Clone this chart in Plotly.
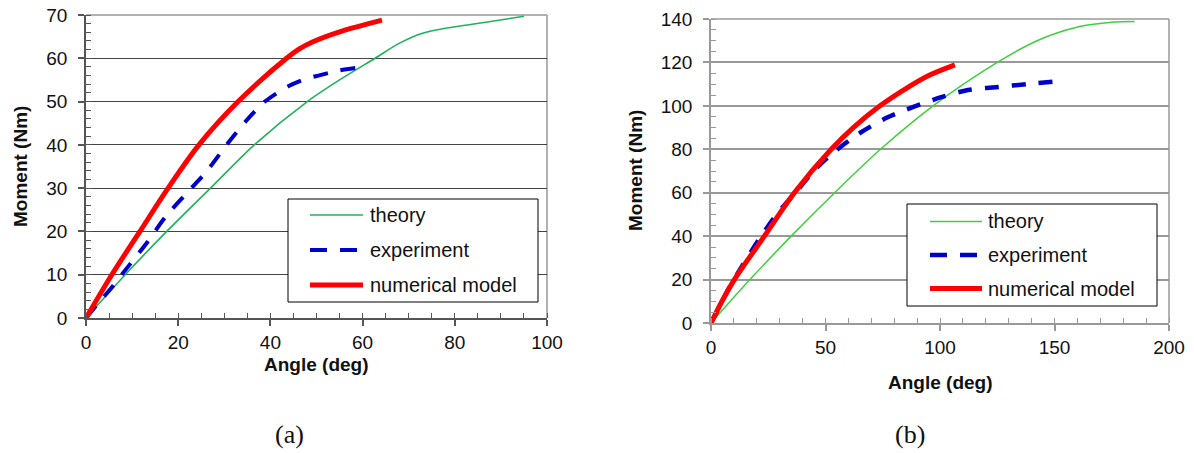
import plotly.graph_objects as go

# ---- data: panel (a) ----
a_theory_x = [0, 8.5, 17.5, 27, 36.5, 48, 55, 62.7, 68, 73, 78.3, 86, 95]
a_theory_y = [0, 10, 20, 30, 40, 50, 55, 60, 63.5, 65.8, 67, 68.2, 69.7]

a_exp_x = [0, 2.5, 5.3, 9.3, 13.3, 17.2, 21.8, 26.1, 30.5, 34.7, 38.8, 44, 47.5, 50.8, 55, 58.8]
a_exp_y = [0, 3.2, 6.7, 12.1, 17.5, 23.3, 28.8, 33.8, 40, 45.5, 50, 53.6, 55.2, 56.1, 57.2, 57.8]

a_num_x = [0, 5.6, 11.7, 17.8, 24.5, 33, 43.5, 46.2, 49, 55, 64.2]
a_num_y = [0, 10, 20, 30, 40, 50, 60, 62.1, 63.7, 66.1, 68.8]

# ---- data: panel (b) ----
b_theory_x = [0, 17, 35, 54, 74, 97, 125, 142.4, 161, 175, 185]
b_theory_y = [0, 20, 40, 60, 80, 100, 120, 130, 136.5, 138.5, 138.8]

b_exp_x = [0, 3, 7.3, 13.8, 20.8, 28.4, 37.2, 45.2, 53.5, 65, 76.9, 88.4, 100.9, 112.2, 125.3, 138, 153.7]
b_exp_y = [0, 6, 15.1, 26.6, 38.2, 49.7, 60.5, 70.4, 78.5, 87.5, 94.6, 99.5, 104.1, 107.3, 108.7, 110, 111.5]

b_num_x = [0, 4.8, 10.2, 23.3, 36.4, 52.5, 62.5, 73.5, 85.3, 95.5, 106.5]
b_num_y = [0, 10, 20, 40, 60, 80, 90.3, 99.8, 108.1, 114.2, 118.9]

legend_labels = ["theory", "experiment", "numerical model"]
captions = ["(a)", "(b)"]

W, H = 1194, 453
FONT = "Arial, Liberation Sans, sans-serif"


def fx(p):
    return p / W


def fy(p):
    return 1 - p / H


RED = "#ff0000"
BLUE = "#0000cc"
GREEN_A = "#1fb25a"
GREEN_B = "#3fcf3f"

fig = go.Figure()

# panel (a) curves
fig.add_trace(go.Scatter(x=a_theory_x, y=a_theory_y, mode="lines", xaxis="x", yaxis="y",
                         line=dict(color=GREEN_A, width=1.6, shape="spline", smoothing=0.8),
                         showlegend=False))
fig.add_trace(go.Scatter(x=a_exp_x, y=a_exp_y, mode="lines", xaxis="x", yaxis="y",
                         line=dict(color=BLUE, width=4, dash="15px,13px", shape="spline", smoothing=0.8),
                         showlegend=False))
fig.add_trace(go.Scatter(x=a_num_x, y=a_num_y, mode="lines", xaxis="x", yaxis="y",
                         line=dict(color=RED, width=5, shape="spline", smoothing=0.9),
                         showlegend=False))

# panel (b) curves
fig.add_trace(go.Scatter(x=b_theory_x, y=b_theory_y, mode="lines", xaxis="x2", yaxis="y2",
                         line=dict(color=GREEN_B, width=1.5, shape="spline", smoothing=0.8),
                         showlegend=False))
fig.add_trace(go.Scatter(x=b_exp_x, y=b_exp_y, mode="lines", xaxis="x2", yaxis="y2",
                         line=dict(color=BLUE, width=4.5, dash="14px,13px", shape="spline", smoothing=0.8),
                         showlegend=False))
fig.add_trace(go.Scatter(x=b_num_x, y=b_num_y, mode="lines", xaxis="x2", yaxis="y2",
                         line=dict(color=RED, width=5, shape="spline", smoothing=0.8),
                         showlegend=False))


def axis_style(axcolor, gridcolor, gridwidth, dtick, minor_dtick, rng, domain, anchor, showgrid, standoff):
    return dict(
        domain=domain, anchor=anchor, range=rng, dtick=dtick, tick0=0, automargin=False,
        showline=True, linecolor=axcolor, linewidth=1.5,
        ticks="outside", ticklen=6, tickcolor=axcolor, tickwidth=1.5,
        minor=dict(dtick=minor_dtick, ticks="inside", ticklen=5, tickcolor=axcolor,
                   tickwidth=1, showgrid=False),
        showgrid=showgrid, gridcolor=gridcolor, gridwidth=gridwidth,
        zeroline=False, tickfont=dict(family=FONT, size=19, color="#111"),
        ticklabelstandoff=standoff, fixedrange=True,
    )


fig.update_layout(
    width=W, height=H, margin=dict(l=0, r=0, t=0, b=0, autoexpand=False),
    paper_bgcolor="white", plot_bgcolor="white", showlegend=False,
    xaxis=axis_style("#555", "#444", 1, 20, 5, [0, 100], [fx(86), fx(547)], "y", False, 0),
    yaxis=axis_style("#555", "#444", 1, 10, 2, [0, 70], [fy(318), fy(15)], "x", True, 7),
    xaxis2=axis_style("#999", "#999", 1.5, 50, 10, [0, 200], [fx(711), fx(1169)], "y2", False, 0),
    yaxis2=axis_style("#999", "#999", 1.5, 20, 5, [0, 140], [fy(323), fy(19)], "x2", True, 7),
)

shapes = []
# plot frames (right and top edges in light grey)
for xd, yd in (("x domain", "y domain"), ("x2 domain", "y2 domain")):
    shapes.append(dict(type="line", xref=xd, yref=yd, x0=1, x1=1, y0=0, y1=1,
                       line=dict(color="#999", width=1.5), layer="below"))
    shapes.append(dict(type="line", xref=xd, yref=yd, x0=0, x1=1, y0=1, y1=1,
                       line=dict(color="#999", width=1.5), layer="below"))

annotations = []


def add_legend(box, sample_x, rows, text_x, colors, widths, dashes):
    x0, x1, y0, y1 = box
    shapes.append(dict(type="rect", xref="paper", yref="paper",
                       x0=fx(x0), x1=fx(x1), y0=fy(y1), y1=fy(y0),
                       line=dict(color="black", width=1), fillcolor="white", layer="above"))
    for label, yy, c, w, d in zip(legend_labels, rows, colors, widths, dashes):
        shapes.append(dict(type="line", xref="paper", yref="paper",
                           x0=fx(sample_x[0]), x1=fx(sample_x[1]), y0=fy(yy), y1=fy(yy),
                           line=dict(color=c, width=w, dash=d), layer="above"))
        annotations.append(dict(xref="paper", yref="paper", x=fx(text_x), y=fy(yy),
                                text=label, showarrow=False, xanchor="left", yanchor="middle",
                                font=dict(family=FONT, size=20, color="#111")))


add_legend((288, 538, 199, 302), (310, 363), (215, 250, 285), 368,
           [GREEN_A, BLUE, RED], [1.6, 4, 5], ["solid", "17px,13px", "solid"])
add_legend((907, 1157, 204, 306), (930, 982), (221.5, 255, 288.5), 986,
           [GREEN_B, BLUE, RED], [1.5, 4.5, 5], ["solid", "17px,13px", "solid"])

# axis titles
title_font = dict(family=FONT, size=19, color="#111")
for txt, x, y, ang in (("Moment (Nm)", 20, 167, -90), ("Angle (deg)", 316, 364, 0),
                       ("Moment (Nm)", 636, 171, -90), ("Angle (deg)", 940, 382, 0)):
    annotations.append(dict(xref="paper", yref="paper", x=fx(x), y=fy(y), text="<b>%s</b>" % txt,
                            showarrow=False, xanchor="center", yanchor="middle", textangle=ang,
                            font=title_font))

# sub-figure captions
for txt, x in zip(captions, (289, 910)):
    annotations.append(dict(xref="paper", yref="paper", x=fx(x), y=fy(434), text=txt,
                            showarrow=False, xanchor="center", yanchor="middle",
                            font=dict(family="Liberation Serif, DejaVu Serif, serif", size=26,
                                      color="#111")))

fig.update_layout(shapes=shapes, annotations=annotations)

fig.write_html("out.html")
